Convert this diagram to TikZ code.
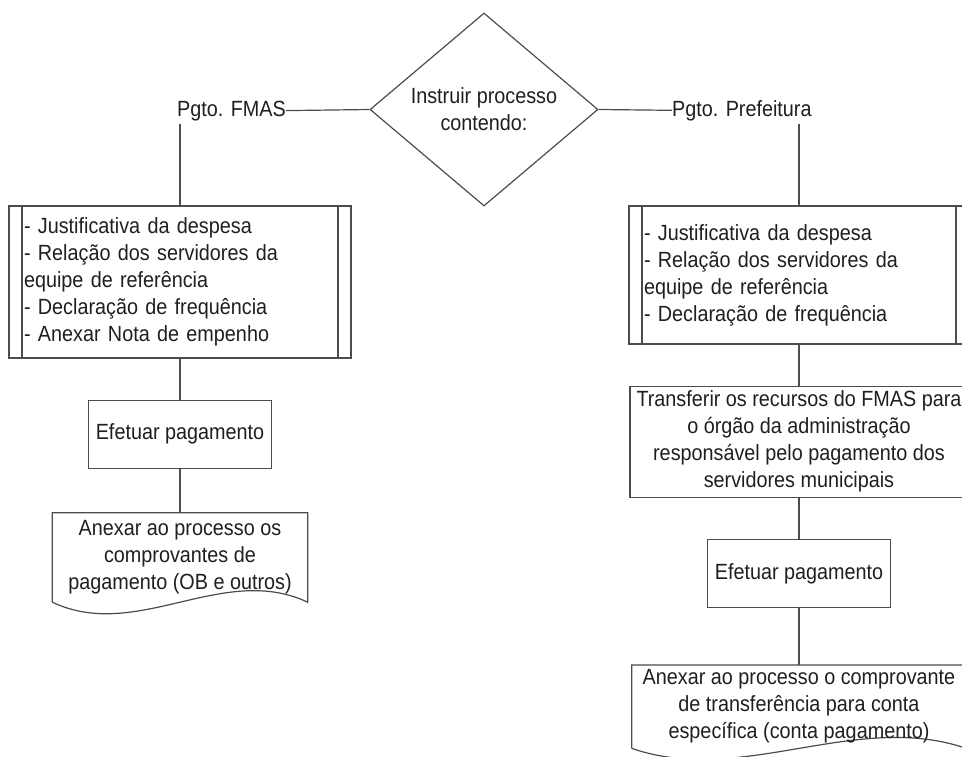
\documentclass[tikz,border=0pt]{standalone}
\usepackage{fontspec}
\setmainfont{Liberation Sans}[FakeStretch=0.9]
\usetikzlibrary{
    positioning,
    shapes.geometric
}
\tikzset{
    % Colors
    nice gray/.style={black!70},
    nice ink/.style={text=black!88},
    %
    % Lines
    flow/.style={nice gray,line width=1.2pt},
    %
    % Boxes
    box base/.style={draw,flow,nice ink,font=\fontsize{22pt}{27pt}\selectfont},
    process/.style={box base,rectangle,align=center,inner xsep=3pt,inner ysep=3pt,minimum width=183pt,minimum height=68pt},
    predef/.style={box base,rectangle,align=left,inner xsep=15pt,inner ysep=3pt,
        path picture={
            \draw[flow] ([xshift=13pt]path picture bounding box.north west) -- ([xshift=13pt]path picture bounding box.south west);
            \draw[flow] ([xshift=-13pt]path picture bounding box.north east) -- ([xshift=-13pt]path picture bounding box.south east);
        }},
    decision/.style={box base,diamond,align=center,inner sep=0pt,aspect=1.18,minimum width=228pt,minimum height=193pt},
    docshape/.style 2 args={nice ink,font=\fontsize{22pt}{27pt}\selectfont,align=center,inner sep=3pt,
        append after command={\pgfextra{
            \draw[flow] (\tikzlastnode.south west) -- (\tikzlastnode.north west)
                -- (\tikzlastnode.north east) -- (\tikzlastnode.south east)
                .. controls +(-#1,#2) and +(#1,-#2) .. (\tikzlastnode.south west);
        }}},
    branch label/.style={nice ink,inner sep=0pt,font=\fontsize{22pt}{27pt}\selectfont}
}

\begin{document}
\begin{tikzpicture}[x=1pt,y=-1pt]
    \useasboundingbox (0,0) rectangle (962,756);
    % top: decision and the two branches
    \node[decision] (instruir) at (484,109.5) {Instruir processo\\contendo:};
    \node[branch label,anchor=base east] (fmas) at (286,116) {Pgto. FMAS};
    \node[branch label,anchor=base west] (prefeitura) at (672,116) {Pgto. Prefeitura};
    \coordinate (fmas drop) at (180,124);
    \coordinate (prefeitura drop) at (799,124);

    % left column
    \node[predef,text width=312pt,minimum height=152pt] (listfmas) at (180,282)
        {- Justificativa da despesa\\- Relação dos servidores da\\equipe de referência\\- Declaração de frequência\\- Anexar Nota de empenho};
    \node[process,below=41pt of listfmas] (payfmas) {Efetuar pagamento};
    \node[docshape={85pt}{40pt},minimum width=255pt,minimum height=89pt,below=44pt of payfmas] (proofmas)
        {Anexar ao processo os\\comprovantes de\\pagamento (OB e outros)};

    % right column
    \node[predef,text width=310pt,minimum height=138pt] (listpref) at (799,275)
        {- Justificativa da despesa\\- Relação dos servidores da\\equipe de referência\\- Declaração de frequência};
    \node[process,minimum width=338pt,minimum height=111pt,below=41pt of listpref] (transfer)
        {Transferir os recursos do FMAS para\\o órgão da administração\\responsável pelo pagamento dos\\servidores municipais};
    \node[process,below=41pt of transfer] (paypref) {Efetuar pagamento};
    \node[docshape={110pt}{38pt},minimum width=334pt,minimum height=83pt,below=57pt of paypref] (proofpref)
        {Anexar ao processo o comprovante\\de transferência para conta\\específica (conta pagamento)};

    % connectors
    \draw[flow] (fmas.east) -- (instruir.west);
    \draw[flow] (instruir.east) -- (prefeitura.west);
    \draw[flow] (fmas drop) -- (listfmas.north);
    \draw[flow] (listfmas) -- (payfmas);
    \draw[flow] (payfmas) -- (proofmas);
    \draw[flow] (prefeitura drop) -- (listpref.north);
    \draw[flow] (listpref) -- (transfer);
    \draw[flow] (transfer) -- (paypref);
    \draw[flow] (paypref) -- (proofpref);
\end{tikzpicture}
\end{document}
